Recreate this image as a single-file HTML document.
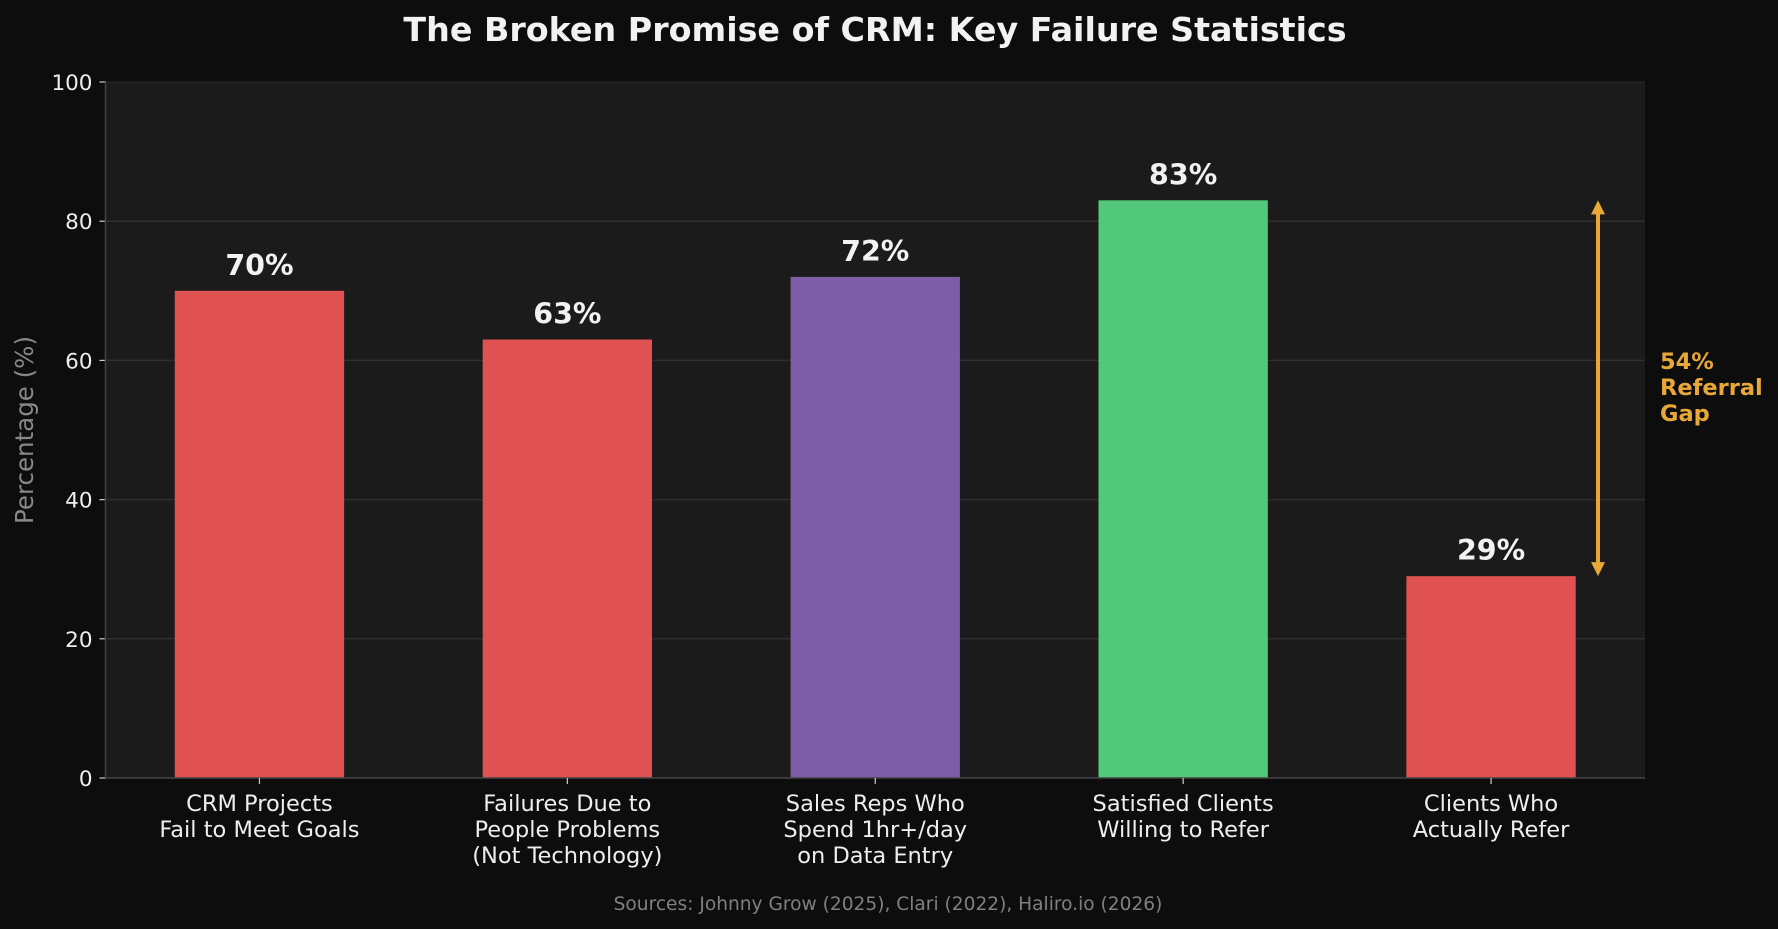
<!DOCTYPE html>
<html><head><meta charset="utf-8"><style>
html,body{margin:0;padding:0;background:#0d0d0d;}
svg{display:block;font-family:"DejaVu Sans","Liberation Sans",sans-serif;}
</style></head><body>
<svg id="chart" width="1778" height="929" viewBox="0 0 1778 929">
<rect width="1778" height="929" fill="#0d0d0d"/>
<text x="875" y="41" text-anchor="middle" fill="#f2f2f2" font-size="33.3" font-weight="bold">The Broken Promise of CRM: Key Failure Statistics</text>
<rect x="105.5" y="82" width="1539.5" height="696" fill="#1b1b1b"/>
<g id="grid"></g><g id="bars"></g><g id="axes"></g>
<text transform="translate(33,430) rotate(-90)" text-anchor="middle" fill="#888" font-size="24.5">Percentage (%)</text>
<g>
<line id="gapline" x1="1598" x2="1598" stroke="#e8a838" stroke-width="4"/>
<path id="gaptop" fill="#e8a838"/><path id="gapbot" fill="#e8a838"/>
<text x="1660" y="369" fill="#e8a838" font-size="22.5" font-weight="bold"><tspan x="1660">54%</tspan><tspan x="1660" dy="26">Referral</tspan><tspan x="1660" dy="26">Gap</tspan></text>
</g>
<text x="888" y="910" text-anchor="middle" fill="#808080" font-size="18.6">Sources: Johnny Grow (2025), Clari (2022), Haliro.io (2026)</text>
</svg>
<script>
const categories=[["CRM Projects","Fail to Meet Goals"],["Failures Due to","People Problems","(Not Technology)"],["Sales Reps Who","Spend 1hr+/day","on Data Entry"],["Satisfied Clients","Willing to Refer"],["Clients Who","Actually Refer"]];
const values=[70,63,72,83,29];
const colors=["#e05252","#e05252","#7b5ea7","#52c87a","#e05252"];
const yTicks=[0,20,40,60,80,100];
const NS="http://www.w3.org/2000/svg";
const L=105.5,R=1645,T=82,B=778;
const y=v=>B-(v/100)*(B-T);
const step=(R-L)/5;
const x=i=>L+step*(i+0.5);
const bw=step*0.55;
function el(t,a,p){const e=document.createElementNS(NS,t);for(const k in a)e.setAttribute(k,a[k]);p.appendChild(e);return e;}
const grid=document.getElementById('grid'),bars=document.getElementById('bars'),axes=document.getElementById('axes');
yTicks.forEach(t=>{
 if(t>0&&t<100){const g=el('line',{x1:L,x2:R,y1:y(t),y2:y(t),stroke:'#2e2e2e','stroke-width':1.5},grid);
 
 }
 const tk=el('line',{x1:L-6,x2:L,y1:y(t),y2:y(t),stroke:'#ccc','stroke-width':1.2},axes);
 
 
 const tx=el('text',{x:L-13,y:y(t)+8,'text-anchor':'end',fill:'#eee','font-size':21.5},axes);
 tx.textContent=t;
 
 
});
const top1=el('line',{x1:L,x2:R,y1:T,y2:T,stroke:'#2a2a2a','stroke-width':1},axes);


const ya=el('line',{x1:L,x2:L,y1:T,y2:B,stroke:'#444','stroke-width':1.5},axes);


const xa=el('line',{x1:L,x2:R,y1:B,y2:B,stroke:'#444','stroke-width':1.5},axes);


values.forEach((v,i)=>{
 const r=el('rect',{x:x(i)-bw/2,y:y(v),width:bw,height:B-y(v),fill:colors[i]},bars);
 
 
 const lb=el('text',{x:x(i),y:y(v)-16,'text-anchor':'middle',fill:'#f2f2f2','font-size':28.5,'font-weight':'bold'},bars);
 lb.textContent=v+'%';
 
 
 const tk=el('line',{x1:x(i),x2:x(i),y1:B,y2:B+6,stroke:'#ccc','stroke-width':1.2},axes);
 
 
 categories[i].forEach((ln,j)=>{
  const t=el('text',{x:x(i),y:811+j*26,'text-anchor':'middle',fill:'#eee','font-size':22.5},axes);
  t.textContent=ln;
  
  
 });
});
const yt=y(values[3]),yb=y(values[4]),ax=1598;
const gl=document.getElementById('gapline');gl.setAttribute('y1',yt+8);gl.setAttribute('y2',yb-8);
document.getElementById('gaptop').setAttribute('d',`M${ax} ${yt} L${ax-7} ${yt+14} L${ax+7} ${yt+14}Z`);
document.getElementById('gapbot').setAttribute('d',`M${ax} ${yb} L${ax-7} ${yb-14} L${ax+7} ${yb-14}Z`);
</script>
</body></html>
